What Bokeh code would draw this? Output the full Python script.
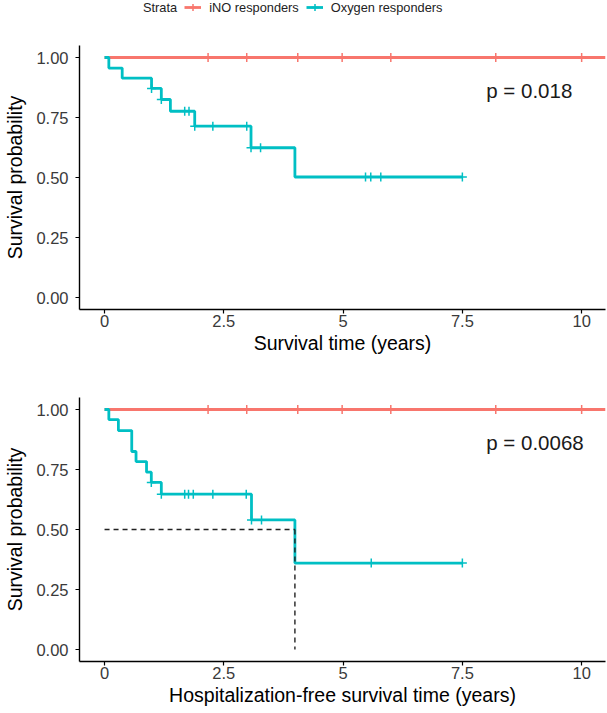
import numpy as np
from bokeh.plotting import figure
from bokeh.models import FixedTicker, Legend, LegendItem, Range1d, Label
from bokeh.layouts import column
from bokeh.embed import file_html
from bokeh.resources import INLINE

# ---------------- data ----------------
STRATA = ["iNO responders", "Oxygen responders"]
COLORS = ["#F8766D", "#00BFC4"]
LEGEND_TITLE = "Strata"

X_TICKS = [0, 2.5, 5, 7.5, 10]
X_TICK_LABELS = ["0", "2.5", "5", "7.5", "10"]
Y_TICKS = [0, 0.25, 0.5, 0.75, 1.0]
Y_TICK_LABELS = ["0.00", "0.25", "0.50", "0.75", "1.00"]

# Panel A: overall survival
os_ino_time = [0.0, 10.5]
os_ino_surv = [1.0, 1.0]
os_ino_cens = [2.17, 2.98, 4.05, 4.98, 6.0, 8.2, 10.0]
os_oxy_time = [0.0, 0.09, 0.37, 0.985, 1.19, 1.38, 1.89, 3.07, 3.99, 7.5]
os_oxy_surv = [1.0, 0.956, 0.914, 0.871, 0.825, 0.776, 0.714, 0.624, 0.502, 0.502]
os_oxy_cens = [0.985, 1.19, 1.68, 1.77, 1.89, 2.27, 2.98, 3.07, 3.27, 5.47, 5.58, 5.79, 7.5]
os_pval = "p = 0.018"
os_xlabel = "Survival time (years)"

# Panel B: hospitalization-free survival
hfs_ino_time = [0.0, 10.5]
hfs_ino_surv = [1.0, 1.0]
hfs_ino_cens = [2.17, 2.98, 4.05, 4.98, 6.0, 8.2, 10.0]
hfs_oxy_time = [0.0, 0.09, 0.29, 0.57, 0.66, 0.88, 0.98, 1.19, 3.08, 3.99, 7.5]
hfs_oxy_surv = [1.0, 0.958, 0.912, 0.825, 0.783, 0.739, 0.696, 0.647, 0.540, 0.360, 0.360]
hfs_oxy_cens = [0.98, 1.19, 1.68, 1.76, 1.86, 2.27, 2.97, 3.08, 3.29, 5.59, 7.5]
hfs_median = 3.99
hfs_median_level = 0.5
hfs_pval = "p = 0.0068"
hfs_xlabel = "Hospitalization-free survival time (years)"

YLABEL = "Survival probability"
PVAL_POS = (8.0, 0.864)

FONT = "Liberation Sans"
LINE_W = 2.8
CROSS_SIZE = 9
CROSS_W = 1.5


def level_at(times, survs, t):
    idx = np.searchsorted(np.asarray(times), np.asarray(t), side="right") - 1
    return list(np.asarray(survs)[idx])


def make_panel(height, top, bottom, curves, pval, xlabel, median=None):
    p = figure(width=607, height=height,
               x_range=Range1d(-0.525, 10.5), y_range=Range1d(-0.05, 1.05),
               output_backend="svg", toolbar_location=None,
               min_border_left=79, min_border_right=2,
               min_border_top=top, min_border_bottom=bottom)
    p.outline_line_color = None
    p.grid.visible = False
    p.background_fill_color = "white"
    p.border_fill_color = "white"

    p.xaxis.ticker = FixedTicker(ticks=X_TICKS)
    p.xaxis.major_label_overrides = dict(zip(X_TICKS, X_TICK_LABELS))
    p.yaxis.ticker = FixedTicker(ticks=Y_TICKS)
    p.yaxis.major_label_overrides = dict(zip(Y_TICKS, Y_TICK_LABELS))
    for ax in (p.xaxis[0], p.yaxis[0]):
        ax.axis_line_color = "black"
        ax.axis_line_width = 1.4
        ax.major_tick_line_color = "black"
        ax.major_tick_line_width = 1.2
        ax.major_tick_out = 4
        ax.major_tick_in = 0
        ax.minor_tick_out = 0
        ax.minor_tick_in = 0
        ax.major_label_text_font = FONT
        ax.major_label_text_font_size = "16.5px"
        ax.major_label_text_color = "#3a3a3a"
        ax.axis_label_text_font = FONT
        ax.axis_label_text_font_size = "19.5px"
        ax.axis_label_text_font_style = "normal"
        ax.axis_label_text_color = "black"
    p.xaxis.axis_label = xlabel
    p.yaxis.axis_label = YLABEL
    p.xaxis.major_label_standoff = 1
    p.xaxis.axis_label_standoff = 2
    p.yaxis.major_label_standoff = 7
    p.yaxis.axis_label_standoff = 7

    for (t, s, c), color in zip(curves, COLORS):
        p.step(t, s, mode="after", line_color=color, line_width=LINE_W)
        p.scatter(c, level_at(t, s, c), marker="cross", size=CROSS_SIZE,
                  line_color=color, line_width=CROSS_W)

    if median is not None:
        mt, ml = median
        p.line([0, mt], [ml, ml], line_color="#222222", line_width=1.4, line_dash="5 4")
        p.line([mt, mt], [ml, 0], line_color="#222222", line_width=1.4, line_dash="5 4")

    p.add_layout(Label(x=PVAL_POS[0], y=PVAL_POS[1], text=pval, text_font=FONT,
                       text_font_size="20.5px", text_color="#1a1a1a",
                       text_baseline="alphabetic", text_align="left"))
    return p


def make_legend_strip(height, curves):
    # The strip's ranges lie away from the data, so its renderers only feed the legend.
    p = figure(width=607, height=height, x_range=Range1d(100, 101), y_range=Range1d(100, 101),
               x_axis_type=None, y_axis_type=None, output_backend="svg",
               toolbar_location=None, min_border=0)
    p.outline_line_color = None
    p.grid.visible = False
    t0, s0, _ = curves[0]
    blank = p.line(t0, s0, line_alpha=0)
    items = [LegendItem(label=LEGEND_TITLE, renderers=[blank])]
    for name, color, (t, s, c) in zip(STRATA, COLORS, curves):
        ln = p.step(t, s, mode="after", line_color=color, line_width=LINE_W)
        cr = p.scatter(c, level_at(t, s, c), marker="cross", size=CROSS_SIZE,
                       line_color=color, line_width=CROSS_W)
        items.append(LegendItem(label=name, renderers=[ln, cr]))
    lg = Legend(items=items, orientation="horizontal", location=(39, 4),
                glyph_width=17, glyph_height=22, label_height=20,
                label_standoff=8, spacing=7, padding=0, margin=0,
                label_text_font=FONT, label_text_font_size="12.8px",
                label_text_color="#222222",
                background_fill_alpha=0, border_line_alpha=0)
    p.add_layout(lg, "center")
    return p


os_curves = [(os_ino_time, os_ino_surv, os_ino_cens),
             (os_oxy_time, os_oxy_surv, os_oxy_cens)]
hfs_curves = [(hfs_ino_time, hfs_ino_surv, hfs_ino_cens),
              (hfs_oxy_time, hfs_oxy_surv, hfs_oxy_cens)]

strip = make_legend_strip(22, os_curves)
p1 = make_panel(336, 23, 49, os_curves, os_pval, os_xlabel)
p2 = make_panel(355, 39, 52, hfs_curves, hfs_pval, hfs_xlabel,
                median=(hfs_median, hfs_median_level))

layout = column(strip, p1, p2, spacing=0,
                styles={"position": "absolute", "left": "0px", "top": "0px"})

open("out.html", "w").write(file_html(layout, INLINE))
